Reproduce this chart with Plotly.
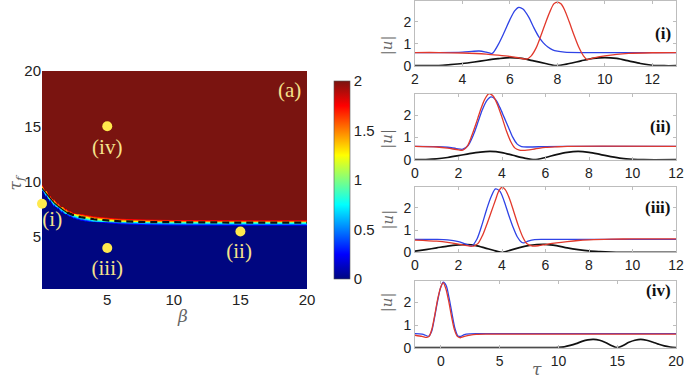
import numpy as np
import plotly.graph_objects as go

W, H = 685, 389

# ---------------- data: phase diagram (a) ----------------
boundary_beta = [0.1, 0.3, 0.5, 0.75, 1.0, 1.25, 1.5, 1.75, 2.0, 2.5, 3, 4, 5, 6, 8, 10, 15, 20]
boundary_tau = [9.4, 9.1, 8.8, 8.4, 8.1, 7.85, 7.6, 7.4, 7.2, 6.95, 6.8, 6.6, 6.5, 6.42, 6.35, 6.32, 6.3, 6.3]
z_low, z_high = 0, 2
band_width = 0.6
grid_beta = np.arange(0.1, 20.05, 0.1)
grid_tau = np.arange(0.3, 20.1, 0.08)

point_beta = [0.1, 15, 5, 5]
point_tau = [8, 5.5, 4, 15]
point_names = ["(i)", "(ii)", "(iii)", "(iv)"]
label_beta = [0.87, 14.9, 5, 5]
label_tau = [6.5, 3.6, 2.0, 13.0]

# ---------------- data: profiles |u| ----------------
# panel (i)
p1_blue_x = [2, 3, 4, 4.4, 4.7, 5.0, 5.25, 5.5, 5.75, 6.0, 6.2, 6.37, 6.55, 6.8, 7.0, 7.2, 7.4, 7.6, 7.8, 8.0, 8.3, 9, 10, 11, 12, 13]
p1_blue_y = [0.6, 0.6, 0.62, 0.65, 0.67, 0.62, 0.56, 0.95, 1.5, 2.1, 2.5, 2.66, 2.58, 2.2, 1.75, 1.35, 1.05, 0.85, 0.72, 0.66, 0.62, 0.6, 0.6, 0.6, 0.6, 0.6]
p1_red_x = [2, 3, 4, 5, 5.5, 6.0, 6.4, 6.7, 6.9, 7.1, 7.3, 7.5, 7.7, 7.85, 8.0, 8.15, 8.3, 8.5, 8.7, 8.9, 9.1, 9.25, 9.5, 10, 10.5, 11, 12, 13]
p1_red_y = [0.6, 0.6, 0.58, 0.53, 0.48, 0.42, 0.35, 0.3, 0.45, 0.8, 1.35, 1.95, 2.5, 2.82, 2.9, 2.82, 2.55, 2.0, 1.4, 0.85, 0.45, 0.28, 0.35, 0.45, 0.52, 0.56, 0.59, 0.6]
p1_black_x = [2, 3, 3.5, 4, 4.5, 5, 5.5, 6, 6.5, 7, 7.5, 7.95, 8.5, 9, 9.5, 10, 10.5, 11, 11.5, 12, 12.5, 13]
p1_black_y = [0, 0.01, 0.05, 0.1, 0.17, 0.25, 0.32, 0.37, 0.33, 0.22, 0.1, 0, 0.1, 0.22, 0.33, 0.37, 0.33, 0.22, 0.1, 0.02, 0, 0]

# panel (ii)
p2_blue_x = [0, 1, 1.5, 1.9, 2.2, 2.45, 2.7, 2.9, 3.1, 3.3, 3.5, 3.7, 3.9, 4.1, 4.3, 4.5, 4.7, 4.9, 5.2, 6, 7, 12]
p2_blue_y = [0.6, 0.59, 0.56, 0.5, 0.47, 0.65, 1.15, 1.7, 2.25, 2.65, 2.82, 2.7, 2.35, 1.9, 1.45, 1.0, 0.7, 0.59, 0.57, 0.59, 0.6, 0.6]
p2_red_x = [0, 1, 1.5, 2.0, 2.2, 2.4, 2.6, 2.8, 3.0, 3.2, 3.4, 3.6, 3.8, 4.0, 4.2, 4.4, 4.6, 4.8, 5.0, 5.5, 6.0, 6.5, 7, 12]
p2_red_y = [0.6, 0.57, 0.52, 0.44, 0.43, 0.6, 1.05, 1.6, 2.2, 2.7, 2.97, 2.85, 2.45, 1.9, 1.3, 0.82, 0.52, 0.43, 0.42, 0.48, 0.55, 0.58, 0.6, 0.6]
p2_black_x = [0, 0.5, 1, 1.5, 2, 2.5, 3, 3.45, 4, 4.5, 5, 5.5, 6, 6.5, 7, 7.5, 8, 8.5, 9, 9.5, 10, 10.5, 12]
p2_black_y = [0, 0.01, 0.04, 0.1, 0.18, 0.27, 0.34, 0.37, 0.32, 0.2, 0.08, 0, 0.1, 0.23, 0.33, 0.37, 0.33, 0.24, 0.14, 0.06, 0.02, 0, 0]

# panel (iii)
p3_blue_x = [0, 1, 1.5, 2.0, 2.3, 2.6, 2.85, 3.1, 3.3, 3.5, 3.7, 3.9, 4.1, 4.3, 4.5, 4.7, 4.9, 5.0, 5.2, 5.5, 6, 12]
p3_blue_y = [0.58, 0.58, 0.56, 0.48, 0.38, 0.28, 0.6, 1.3, 1.95, 2.5, 2.85, 2.75, 2.3, 1.7, 1.15, 0.7, 0.45, 0.42, 0.5, 0.57, 0.58, 0.58]
p3_red_x = [0, 1, 1.5, 2, 2.4, 2.7, 2.9, 3.1, 3.3, 3.5, 3.7, 3.85, 4.0, 4.15, 4.35, 4.55, 4.75, 4.95, 5.15, 5.4, 5.7, 6, 6.5, 7, 7.5, 8, 9, 10, 12]
p3_red_y = [0.55, 0.5, 0.45, 0.37, 0.3, 0.28, 0.4, 0.75, 1.25, 1.8, 2.35, 2.75, 2.92, 2.82, 2.4, 1.8, 1.2, 0.7, 0.38, 0.28, 0.3, 0.35, 0.42, 0.48, 0.53, 0.56, 0.59, 0.6, 0.6]
p3_black_x = [0, 0.5, 1, 1.5, 2, 2.4, 2.8, 3.2, 3.6, 3.97, 4.4, 4.8, 5.2, 5.6, 6.0, 6.5, 7, 7.5, 8, 8.5, 9, 9.5, 12]
p3_black_y = [0.05, 0.12, 0.2, 0.28, 0.33, 0.35, 0.3, 0.2, 0.09, 0, 0.1, 0.21, 0.3, 0.35, 0.36, 0.3, 0.2, 0.12, 0.06, 0.03, 0.01, 0, 0]

# panel (iv)
p4_blue_x = [-2.2, -1.6, -1.3, -1.05, -0.8, -0.55, -0.3, -0.05, 0.2, 0.45, 0.7, 0.95, 1.2, 1.45, 1.7, 2.0, 2.5, 3, 20]
p4_blue_y = [0.62, 0.6, 0.55, 0.5, 0.7, 1.3, 2.0, 2.6, 2.9, 2.75, 2.2, 1.5, 0.85, 0.52, 0.5, 0.58, 0.61, 0.62, 0.62]
p4_red_x = [-2.2, -1.6, -1.2, -1.0, -0.75, -0.5, -0.25, 0.0, 0.2, 0.4, 0.65, 0.9, 1.15, 1.4, 1.65, 2.0, 2.5, 3, 4, 20]
p4_red_y = [0.55, 0.5, 0.46, 0.5, 0.85, 1.5, 2.2, 2.7, 2.87, 2.65, 2.1, 1.4, 0.8, 0.5, 0.44, 0.5, 0.56, 0.59, 0.6, 0.6]
p4_black_x = [-2.2, 9.5, 10, 10.5, 11, 11.5, 12, 12.5, 13, 13.5, 14, 14.5, 15, 15.5, 16, 16.5, 17, 17.5, 18, 18.5, 19, 19.5, 20]
p4_black_y = [0, 0, 0.01, 0.04, 0.1, 0.18, 0.28, 0.35, 0.37, 0.33, 0.23, 0.1, 0, 0.1, 0.24, 0.33, 0.37, 0.33, 0.25, 0.16, 0.08, 0.03, 0]

panel_names = ["(i)", "(ii)", "(iii)", "(iv)"]
panel_xrange = [[2, 13], [0, 12], [0, 12], [-2.2, 20]]
panel_xticks = [[2, 4, 6, 8, 10, 12], [0, 2, 4, 6, 8, 10, 12], [0, 2, 4, 6, 8, 10, 12], [0, 5, 10, 15, 20]]
y_ticks = [0, 1, 2]
cbar_ticks = [0, 0.5, 1, 1.5, 2]

# ---------------- figure ----------------
def fx(p):
    return p / W

def fy(p):
    return 1 - p / H

# build heatmap table from the read boundary (thin graded band across it)
b_at = np.interp(grid_beta, boundary_beta, boundary_tau)
frac = np.clip((grid_tau[:, None] - b_at[None, :]) / band_width + 0.5, 0, 1)
z = z_low + (z_high - z_low) * frac

jet = [
    [0.0, "rgb(0,6,128)"],
    [0.125, "rgb(0,0,255)"],
    [0.375, "rgb(0,255,255)"],
    [0.625, "rgb(255,255,0)"],
    [0.875, "rgb(255,0,0)"],
    [1.0, "rgb(122,20,16)"],
]

fig = go.Figure()

fig.add_trace(go.Heatmap(
    x=grid_beta, y=grid_tau, z=z, zmin=0, zmax=2, colorscale=jet,
    xaxis="x", yaxis="y", hoverinfo="skip",
    colorbar=dict(
        x=fx(324), xanchor="left", xref="paper",
        y=fy(289), yanchor="bottom", len=(289 - 71) / H, lenmode="fraction",
        thickness=16, thicknessmode="pixels",
        tickvals=cbar_ticks, ticktext=[str(v) for v in cbar_ticks],
        ticks="", outlinewidth=0.6, outlinecolor="#555",
        tickfont=dict(family="Liberation Sans", size=15, color="#222"),
    ),
))

# boundary line: solid part, dashed part
solid_b = [b for b in boundary_beta if b <= 2.5]
solid_t = boundary_tau[:len(solid_b)]
dash_b = [b for b in boundary_beta if b >= 2.0]
dash_t = boundary_tau[len(boundary_beta) - len(dash_b):]
fig.add_trace(go.Scatter(x=solid_b, y=solid_t, mode="lines", line=dict(color="#111", width=1.2),
                         xaxis="x", yaxis="y", showlegend=False, hoverinfo="skip"))
fig.add_trace(go.Scatter(x=dash_b, y=dash_t, mode="lines", line=dict(color="#111", width=2.2, dash="7px,5px"),
                         xaxis="x", yaxis="y", showlegend=False, hoverinfo="skip"))

fig.add_trace(go.Scatter(x=point_beta, y=point_tau, mode="markers",
                         marker=dict(size=10, color="#FFE94D"), cliponaxis=False,
                         xaxis="x", yaxis="y", showlegend=False))
fig.add_trace(go.Scatter(x=label_beta, y=label_tau, mode="text", text=point_names,
                         textfont=dict(family="Liberation Serif", size=21, color="#F6E28C"),
                         cliponaxis=False, xaxis="x", yaxis="y", showlegend=False))

panels = [
    (p1_blue_x, p1_blue_y, p1_red_x, p1_red_y, p1_black_x, p1_black_y),
    (p2_blue_x, p2_blue_y, p2_red_x, p2_red_y, p2_black_x, p2_black_y),
    (p3_blue_x, p3_blue_y, p3_red_x, p3_red_y, p3_black_x, p3_black_y),
    (p4_blue_x, p4_blue_y, p4_red_x, p4_red_y, p4_black_x, p4_black_y),
]
for i, (bx, by, rx, ry, kx, ky) in enumerate(panels):
    xa, ya = "x%d" % (i + 2), "y%d" % (i + 2)
    fig.add_trace(go.Scatter(x=kx, y=ky, mode="lines", line=dict(color="#111", width=1.7, shape="spline", smoothing=0.8),
                             xaxis=xa, yaxis=ya, showlegend=False))
    fig.add_trace(go.Scatter(x=bx, y=by, mode="lines", line=dict(color="#2f43e6", width=1.3, shape="spline", smoothing=0.8),
                             xaxis=xa, yaxis=ya, showlegend=False))
    fig.add_trace(go.Scatter(x=rx, y=ry, mode="lines", line=dict(color="#e2392c", width=1.3, shape="spline", smoothing=0.8),
                             xaxis=xa, yaxis=ya, showlegend=False))

tickfont = dict(family="Liberation Sans", size=15, color="#222")
layout = dict(
    width=W, height=H, margin=dict(l=0, r=0, t=0, b=0, autoexpand=False),
    paper_bgcolor="white", plot_bgcolor="white", showlegend=False,
    xaxis=dict(domain=[fx(42), fx(307)], range=[0.1, 20], tickvals=[5, 10, 15, 20], ticks="",
               showgrid=False, zeroline=False, showline=False, tickfont=tickfont, anchor="y",
               automargin=False),
    yaxis=dict(domain=[fy(289), fy(71)], range=[0.3, 20], tickvals=[5, 10, 15, 20], ticks="",
               showgrid=False, zeroline=False, showline=False, tickfont=tickfont, anchor="x",
               automargin=False),
)

panel_px = [(1, 65.7), (94, 159.7), (186.7, 252.3), (281, 347.7)]
small_font = dict(family="Liberation Sans", size=14, color="#222")
for i in range(4):
    top, bot = panel_px[i]
    layout["xaxis%d" % (i + 2)] = dict(
        domain=[fx(415), fx(676)], range=panel_xrange[i], tickvals=panel_xticks[i],
        showgrid=False, zeroline=False, showline=True, mirror="ticks", linecolor="#bdbdbd", linewidth=1,
        ticks="inside", ticklen=3, tickcolor="#bdbdbd", tickfont=small_font, anchor="y%d" % (i + 2),
        automargin=False)
    layout["yaxis%d" % (i + 2)] = dict(
        domain=[fy(bot), fy(top)], range=[0, 2.95], tickvals=y_ticks,
        showgrid=False, zeroline=False, showline=True, mirror="ticks", linecolor="#bdbdbd", linewidth=1,
        ticks="inside", ticklen=3, tickcolor="#bdbdbd", tickfont=small_font, anchor="x%d" % (i + 2),
        automargin=False)

fig.update_layout(**layout)

ann = []
# panel (a) label
ann.append(dict(x=18.7, y=18.3, xref="x", yref="y", text="(a)", showarrow=False,
                font=dict(family="Liberation Serif", size=21, color="#F6E28C")))
# axis titles for (a)
ann.append(dict(x=fx(175), y=fy(328), xref="paper", yref="paper", text="<i>β</i>", showarrow=False,
                font=dict(family="DejaVu Serif", size=17, color="#666")))
ann.append(dict(x=fx(2), y=fy(183), xref="paper", yref="paper", text="<i>τ<sub>f</sub></i>", showarrow=False,
                xanchor="left", textangle=-90, font=dict(family="DejaVu Serif", size=17, color="#666")))
# right panels
for i in range(4):
    top, bot = panel_px[i]
    ann.append(dict(x=fx(387), y=fy((top + bot) / 2), xref="paper", yref="paper", text="|<i>u</i>|",
                    showarrow=False, textangle=-90,
                    font=dict(family="DejaVu Serif", size=15, color="#666")))
    ann.append(dict(x=fx(673), y=fy(top + 21), xref="paper", yref="paper", text="<b>%s</b>" % panel_names[i],
                    showarrow=False, xanchor="right",
                    font=dict(family="Liberation Serif", size=17, color="#111")))
ann.append(dict(x=fx(544), y=fy(381), xref="paper", yref="paper", text="<i>τ</i>", showarrow=False,
                font=dict(family="DejaVu Serif", size=17, color="#666")))
fig.update_layout(annotations=ann)

fig.write_html("out.html", config={"displayModeBar": False},
               post_script="document.body.style.margin='0';document.body.style.overflow='hidden';")
